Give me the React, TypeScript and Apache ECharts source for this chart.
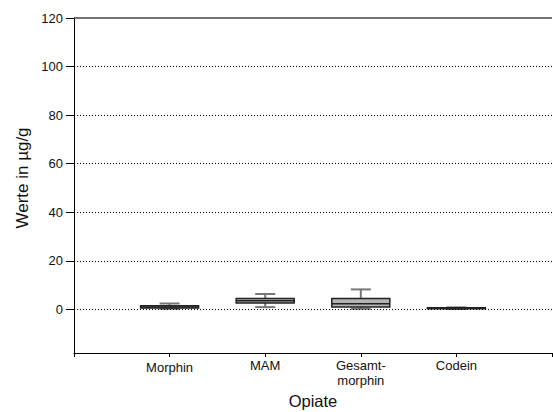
import React, { useEffect, useRef } from "react";
import * as echarts from "echarts";

// Category labels along the x axis (outer empty slots give the padding ticks)
const categories = ["", "Morphin", "MAM", "Gesamt-\nmorphin", "Codein", ""];
// Box statistics per substance: [min, Q1, median, Q3, max] in µg/g
const morphin = [0.2, 0.5, 0.9, 1.5, 2.4];
const mam = [0.9, 2.6, 3.5, 4.5, 6.3];
const gesamtmorphin = [0.2, 0.9, 2.3, 4.5, 8.2];
const codein = [0.1, 0.3, 0.4, 0.6, 0.8];
// Y axis tick labels and dotted reference lines
const yTicks = [0, 20, 40, 60, 80, 100, 120];
const gridValues = [0, 20, 40, 60, 80, 100];

const FONT = '"Liberation Sans", Arial, sans-serif';

export default function App() {
  const ref = useRef<HTMLDivElement>(null);

  useEffect(() => {
    document.body.style.margin = "0";
    if (!ref.current) return;
    const chart = echarts.init(ref.current, null, { renderer: "svg" });

    const boxes = [morphin, mam, gesamtmorphin, codein].map((v, i) => [i + 1, ...v]);

    const option: any = {
      animation: false,
      backgroundColor: "#fff",
      grid: { left: 74, right: 1, top: 18, bottom: 59, outerBoundsMode: "none", containLabel: false },
      xAxis: {
        type: "category",
        data: categories,
        boundaryGap: false,
        name: "Opiate",
        nameLocation: "middle",
        nameGap: 39,
        nameTextStyle: { fontFamily: FONT, fontSize: 16.5, color: "#111" },
        axisLine: { show: true, onZero: false, lineStyle: { color: "#000", width: 1 } },
        axisTick: { show: true, length: 4, lineStyle: { color: "#000" } },
        axisLabel: {
          interval: 0,
          margin: 5,
          fontFamily: FONT,
          fontSize: 13,
          color: "#111",
          lineHeight: 15,
          formatter: (v: string) => (v === "Morphin" ? "{low|" + v + "}" : v),
          rich: {
            low: { fontFamily: FONT, fontSize: 13, color: "#111", lineHeight: 15, padding: [3, 0, 0, 0] },
          },
        },
        splitLine: { show: false },
      },
      yAxis: {
        type: "value",
        min: -18,
        max: 120,
        axisLine: { show: true, lineStyle: { color: "#000", width: 1 } },
        axisTick: {
          show: true,
          length: 8,
          customValues: yTicks,
          lineStyle: { color: "#000" },
        },
        axisLabel: {
          customValues: yTicks,
          margin: 11,
          fontFamily: FONT,
          fontSize: 13,
          color: "#111",
        },
        splitLine: { show: false },
      },
      graphic: [
        {
          type: "text",
          x: 22,
          y: 178,
          rotation: Math.PI / 2,
          style: {
            text: "Werte in µg/g",
            fontFamily: FONT,
            fontSize: 17,
            fill: "#111",
            align: "center",
            verticalAlign: "middle",
          },
        },
      ],
      series: [
        {
          type: "line",
          data: [],
          silent: true,
          markLine: {
            silent: true,
            symbol: "none",
            label: { show: false },
            lineStyle: { color: "#000", type: [1, 2], width: 1 },
            data: gridValues.map((v) => ({ yAxis: v })),
          },
        },
        {
          type: "line",
          data: [],
          silent: true,
          markLine: {
            silent: true,
            symbol: "none",
            label: { show: false },
            lineStyle: { color: "#444", type: "solid", width: 1.5 },
            data: [{ yAxis: 120 }],
          },
        },
        {
          type: "custom",
          silent: true,
          data: boxes,
          encode: { x: 0, y: [1, 2, 3, 4, 5] },
          renderItem: (params: any, api: any) => {
            const x = api.value(0);
            const [cx, yMin] = api.coord([x, api.value(1)]);
            const yQ1 = api.coord([x, api.value(2)])[1];
            const yMed = api.coord([x, api.value(3)])[1];
            const yQ3 = api.coord([x, api.value(4)])[1];
            const yMax = api.coord([x, api.value(5)])[1];
            const half = 29;
            const cap = 10;
            const whisker = { stroke: "#777", lineWidth: 2 };
            return {
              type: "group",
              children: [
                { type: "line", shape: { x1: cx, y1: yQ3, x2: cx, y2: yMax }, style: whisker },
                { type: "line", shape: { x1: cx - cap, y1: yMax, x2: cx + cap, y2: yMax }, style: whisker },
                { type: "line", shape: { x1: cx, y1: yQ1, x2: cx, y2: yMin }, style: whisker },
                { type: "line", shape: { x1: cx - cap, y1: yMin, x2: cx + cap, y2: yMin }, style: whisker },
                {
                  type: "rect",
                  shape: { x: cx - half, y: yQ3, width: half * 2, height: Math.max(yQ1 - yQ3, 1) },
                  style: { fill: "#b4b4b4", stroke: "#222", lineWidth: 1.5 },
                },
                {
                  type: "line",
                  shape: { x1: cx - half, y1: yMed, x2: cx + half, y2: yMed },
                  style: { stroke: "#222", lineWidth: 1.5 },
                },
              ],
            };
          },
        },
      ],
    };

    chart.setOption(option);
    return () => chart.dispose();
  }, []);

  return <div ref={ref} style={{ width: 553, height: 412 }} />;
}
